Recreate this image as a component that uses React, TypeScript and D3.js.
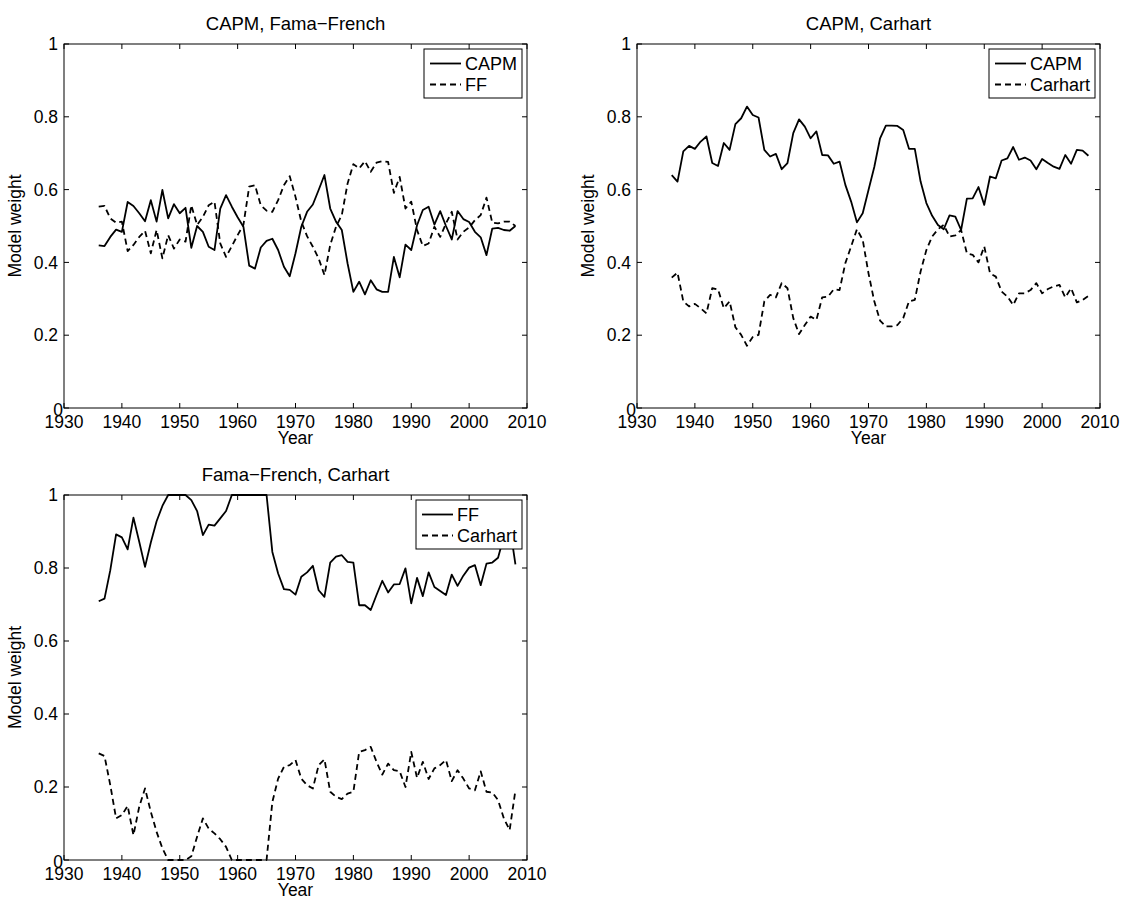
import React from 'react';
import * as d3 from 'd3';

const years = [
  1936, 1937, 1938, 1939, 1940, 1941, 1942, 1943, 1944, 1945,
  1946, 1947, 1948, 1949, 1950, 1951, 1952, 1953, 1954, 1955,
  1956, 1957, 1958, 1959, 1960, 1961, 1962, 1963, 1964, 1965,
  1966, 1967, 1968, 1969, 1970, 1971, 1972, 1973, 1974, 1975,
  1976, 1977, 1978, 1979, 1980, 1981, 1982, 1983, 1984, 1985,
  1986, 1987, 1988, 1989, 1990, 1991, 1992, 1993, 1994, 1995,
  1996, 1997, 1998, 1999, 2000, 2001, 2002, 2003, 2004, 2005,
  2006, 2007, 2008,
];

// CAPM vs Fama-French
const capmVsFF = [
  0.447, 0.445, 0.47, 0.49, 0.484, 0.566, 0.555, 0.535, 0.513, 0.571,
  0.512, 0.599, 0.521, 0.56, 0.535, 0.55, 0.44, 0.5, 0.484, 0.443,
  0.434, 0.548, 0.585, 0.553, 0.524, 0.498, 0.391, 0.383, 0.441, 0.459,
  0.465, 0.434, 0.388, 0.362, 0.425, 0.498, 0.539, 0.559, 0.599, 0.64,
  0.548, 0.512, 0.489, 0.397, 0.319, 0.347, 0.312, 0.351, 0.326, 0.319,
  0.319, 0.415, 0.359, 0.449, 0.434, 0.502, 0.544, 0.553, 0.504, 0.541,
  0.5, 0.463, 0.541, 0.519, 0.511, 0.484, 0.469, 0.42, 0.493, 0.495,
  0.489, 0.487, 0.5,
];
const ffVsCapm = [
  0.553, 0.555, 0.521, 0.509, 0.512, 0.431, 0.448, 0.47, 0.487, 0.425,
  0.489, 0.411, 0.475, 0.438, 0.463, 0.457, 0.557, 0.503, 0.525, 0.557,
  0.567, 0.452, 0.415, 0.445, 0.475, 0.503, 0.608, 0.612, 0.557, 0.542,
  0.539, 0.571, 0.612, 0.637, 0.58, 0.512, 0.472, 0.443, 0.411, 0.365,
  0.448, 0.498, 0.53, 0.617, 0.67, 0.658, 0.678, 0.649, 0.674, 0.678,
  0.676, 0.591, 0.635, 0.548, 0.567, 0.489, 0.445, 0.452, 0.498, 0.47,
  0.507, 0.539, 0.463, 0.484, 0.496, 0.516, 0.53, 0.578, 0.509, 0.507,
  0.512, 0.512, 0.5,
];

// CAPM vs Carhart
const capmVsCarhart = [
  0.64, 0.622, 0.705, 0.72, 0.712, 0.732, 0.746, 0.673, 0.665, 0.728,
  0.709, 0.78, 0.796, 0.828, 0.805, 0.798, 0.709, 0.691, 0.698, 0.656,
  0.673, 0.755, 0.793, 0.773, 0.741, 0.76, 0.695, 0.694, 0.671, 0.677,
  0.613, 0.567, 0.51, 0.535, 0.599, 0.662, 0.741, 0.776, 0.776, 0.775,
  0.764, 0.712, 0.712, 0.622, 0.563, 0.528, 0.503, 0.491, 0.529, 0.526,
  0.489, 0.575, 0.576, 0.607, 0.558, 0.636, 0.631, 0.68, 0.686, 0.717,
  0.682, 0.688, 0.68, 0.656, 0.684, 0.673, 0.663, 0.657, 0.695, 0.671,
  0.709, 0.707, 0.693,
];
const carhartVsCapm = [
  0.358, 0.372, 0.293, 0.279, 0.286, 0.274, 0.26, 0.329, 0.326, 0.274,
  0.293, 0.222, 0.201, 0.171, 0.195, 0.201, 0.293, 0.311, 0.304, 0.343,
  0.329, 0.247, 0.203, 0.228, 0.251, 0.242, 0.304, 0.306, 0.326, 0.324,
  0.398, 0.444, 0.491, 0.462, 0.37, 0.293, 0.24, 0.224, 0.224, 0.228,
  0.247, 0.293, 0.297, 0.375, 0.434, 0.471, 0.491, 0.503, 0.471, 0.474,
  0.489, 0.425, 0.421, 0.4, 0.444, 0.37, 0.361, 0.32, 0.306, 0.283,
  0.315, 0.315, 0.324, 0.343, 0.315, 0.327, 0.334, 0.338, 0.304, 0.329,
  0.29, 0.297, 0.308,
];

// Fama-French vs Carhart
const ffVsCarhart = [
  0.709, 0.716, 0.794, 0.892, 0.884, 0.851, 0.938, 0.872, 0.803, 0.87,
  0.928, 0.97, 1, 1, 1, 1, 0.986, 0.956, 0.89, 0.919,
  0.916, 0.936, 0.956, 1, 1, 1, 1, 1, 1, 1,
  0.844, 0.785, 0.742, 0.74, 0.727, 0.776, 0.788, 0.806, 0.739, 0.721,
  0.815, 0.831, 0.835, 0.817, 0.815, 0.698, 0.698, 0.685, 0.726, 0.765,
  0.733, 0.755, 0.756, 0.799, 0.703, 0.773, 0.723, 0.788, 0.748, 0.737,
  0.726, 0.782, 0.751, 0.779, 0.801, 0.808, 0.753, 0.812, 0.815, 0.828,
  0.886, 0.918, 0.81,
];
const carhartVsFF = [
  0.292, 0.285, 0.205, 0.114, 0.123, 0.148, 0.068, 0.146, 0.196, 0.132,
  0.077, 0.032, 0, 0, 0, 0, 0.01, 0.064, 0.114, 0.086,
  0.073, 0.057, 0.036, 0, 0, 0, 0, 0, 0, 0,
  0.159, 0.223, 0.255, 0.26, 0.274, 0.223, 0.205, 0.196, 0.26, 0.276,
  0.187, 0.173, 0.167, 0.182, 0.187, 0.296, 0.301, 0.31, 0.269, 0.234,
  0.264, 0.246, 0.243, 0.2, 0.296, 0.225, 0.269, 0.222, 0.251, 0.26,
  0.274, 0.216, 0.246, 0.223, 0.196, 0.191, 0.243, 0.187, 0.185, 0.164,
  0.114, 0.082, 0.191,
];

const xTicks = [1930, 1940, 1950, 1960, 1970, 1980, 1990, 2000, 2010];
const yTicks = [0, 0.2, 0.4, 0.6, 0.8, 1];

const FONT = '"Liberation Sans", Arial, Helvetica, sans-serif';
const FS = 17.5;

type Series = { name: string; values: number[]; dashed: boolean };

function Panel({ id, left, top, width, height, title, series, legendWidth }: {
  id: string; left: number; top: number; width: number; height: number;
  title: string; series: Series[]; legendWidth: number;
}) {
  const x = d3.scaleLinear().domain([1930, 2010]).range([left, left + width]);
  const y = d3.scaleLinear().domain([0, 1]).range([top + height, top]);
  const line = d3.line<number>()
    .x((_, i) => x(years[i]))
    .y(d => y(d));
  const tick = 5;
  const bottom = top + height;
  const right = left + width;
  const lx = right - 5 - legendWidth;
  const ly = top + 5;

  return (
    <g>
      <defs>
        <clipPath id={id}>
          <rect x={left} y={top - 1} width={width} height={height + 2} />
        </clipPath>
      </defs>
      <text x={left + width / 2} y={top - 14} textAnchor="middle" fontSize={18.5}>{title}</text>

      <g clipPath={`url(#${id})`}>
        {series.map(s => (
          <path key={s.name} d={line(s.values) || ''} fill="none" stroke="#000"
            strokeWidth={1.8} strokeDasharray={s.dashed ? '6,4' : undefined}
            strokeLinejoin="round" />
        ))}
      </g>

      <rect x={left} y={top} width={width} height={height} fill="none" stroke="#000" strokeWidth={1} />
      {xTicks.map(t => (
        <g key={'x' + t}>
          <line x1={x(t)} x2={x(t)} y1={bottom} y2={bottom - tick} stroke="#000" />
          <line x1={x(t)} x2={x(t)} y1={top} y2={top + tick} stroke="#000" />
          <text x={x(t)} y={bottom + 20} textAnchor="middle" fontSize={FS}>{t}</text>
        </g>
      ))}
      {yTicks.map(t => (
        <g key={'y' + t}>
          <line x1={left} x2={left + tick} y1={y(t)} y2={y(t)} stroke="#000" />
          <line x1={right} x2={right - tick} y1={y(t)} y2={y(t)} stroke="#000" />
          <text x={t === 0 ? left - 1 : left - 6} y={y(t) + (t === 0 ? 2 : 0)} dy="0.35em"
            textAnchor="end" fontSize={FS}>{d3.format('~g')(t)}</text>
        </g>
      ))}
      <text x={left + width / 2} y={bottom + 36} textAnchor="middle" fontSize={FS}>Year</text>
      <text transform={`translate(${left - 43},${top + height / 2}) rotate(-90)`}
        textAnchor="middle" fontSize={FS}>Model weight</text>

      <rect x={lx} y={ly} width={legendWidth} height={49} fill="#fff" stroke="#000" strokeWidth={1} />
      {series.map((s, i) => (
        <g key={'lg' + s.name}>
          <line x1={lx + 6} x2={lx + 37} y1={ly + 14.5 + i * 21} y2={ly + 14.5 + i * 21}
            stroke="#000" strokeWidth={1.8} strokeDasharray={s.dashed ? '6,4' : undefined} />
          <text x={lx + 41} y={ly + 20.5 + i * 21} fontSize={18}>{s.name}</text>
        </g>
      ))}
    </g>
  );
}

export default function App() {
  return (
    <svg width={1124} height={899} fontFamily={FONT}
      style={{ position: 'absolute', left: 0, top: 0, background: '#fff' }}>
      <rect width={1124} height={899} fill="#fff" />
      <Panel id="c1" left={64} top={44} width={463} height={364}
        title="CAPM, Fama−French" legendWidth={98}
        series={[
          { name: 'CAPM', values: capmVsFF, dashed: false },
          { name: 'FF', values: ffVsCapm, dashed: true },
        ]} />
      <Panel id="c2" left={637} top={44} width={463} height={364}
        title="CAPM, Carhart" legendWidth={106}
        series={[
          { name: 'CAPM', values: capmVsCarhart, dashed: false },
          { name: 'Carhart', values: carhartVsCapm, dashed: true },
        ]} />
      <Panel id="c3" left={64} top={495} width={463} height={365}
        title="Fama−French, Carhart" legendWidth={106}
        series={[
          { name: 'FF', values: ffVsCarhart, dashed: false },
          { name: 'Carhart', values: carhartVsFF, dashed: true },
        ]} />
    </svg>
  );
}
